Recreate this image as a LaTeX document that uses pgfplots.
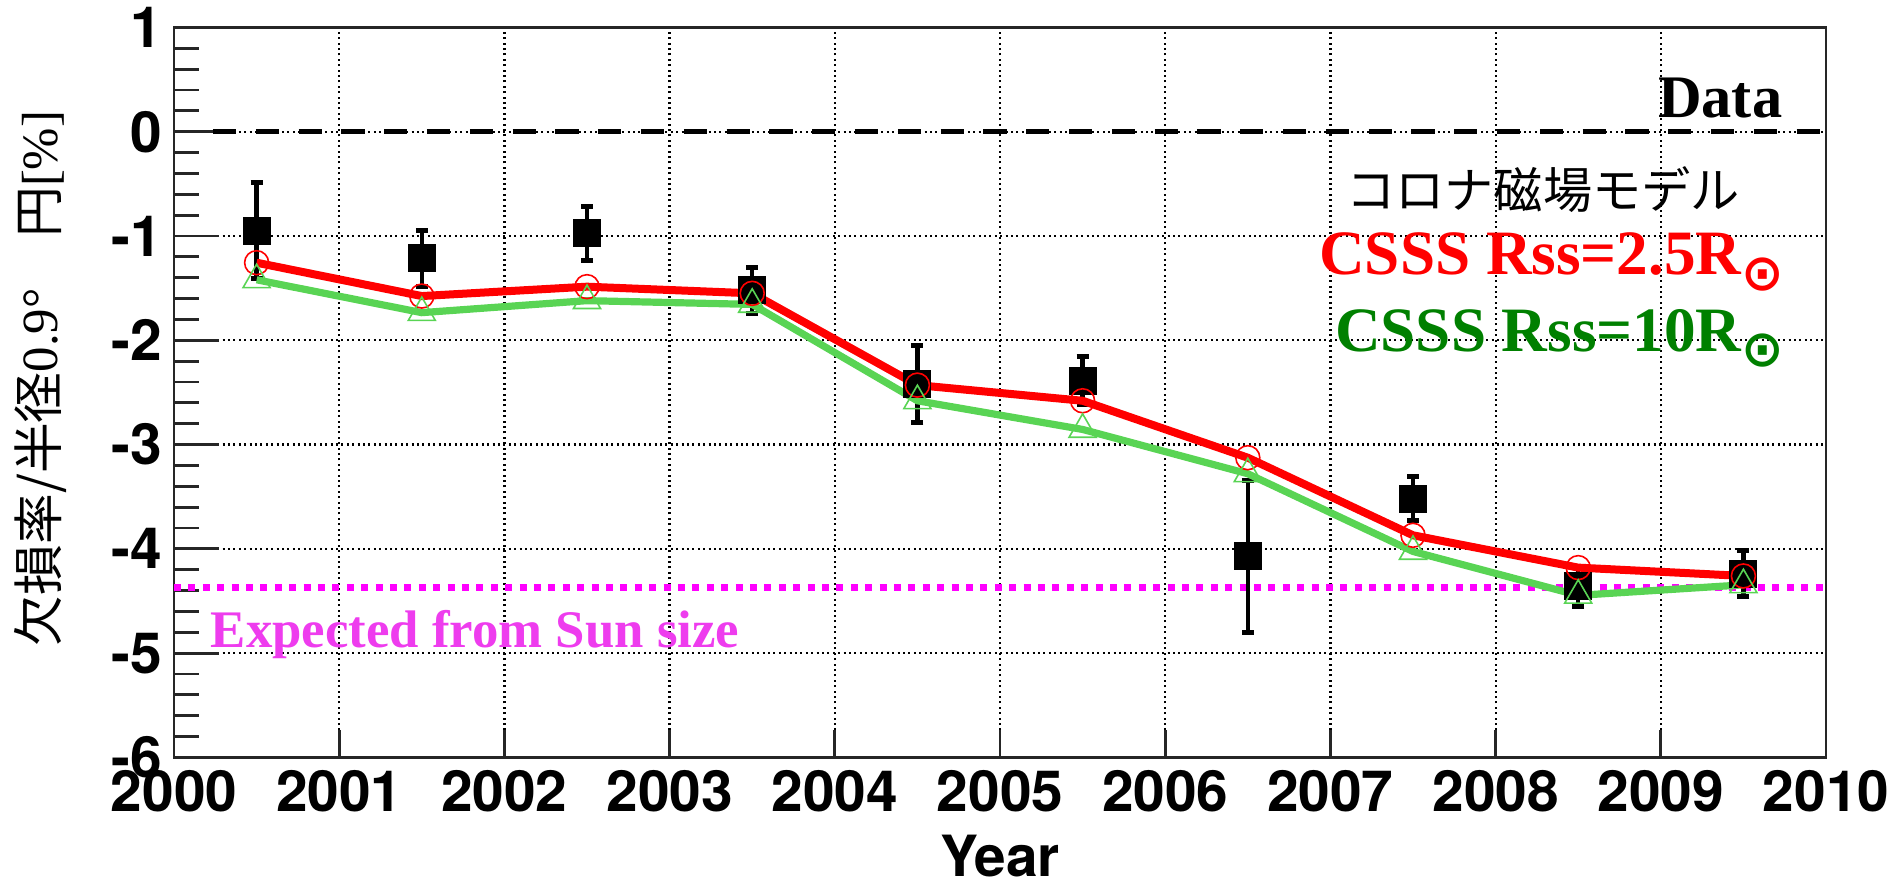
\documentclass[border=0pt]{standalone}
\usepackage{pgfplots}
\pgfplotsset{compat=1.18}
\usepackage{fontspec}
\setmainfont{Liberation Serif}
\setsansfont{TeX Gyre Heros}
\newfontfamily\cjk{Noto Sans CJK JP}
\newfontfamily\dejavu{DejaVu Sans}
\definecolor{rootgreen}{RGB}{89,212,84}
\definecolor{darkgreen}{RGB}{0,128,0}
\definecolor{mag}{RGB}{255,0,255}
\definecolor{magtext}{RGB}{238,60,238}
\newcommand{\sunsym}{\raisebox{-3.9pt}{\dejavu\fontsize{12.7}{12.7}\selectfont ⊙}}

\pgfplotstableread{
x y e
2000.5 -0.95 0.46
2001.5 -1.215 0.27
2002.5 -0.975 0.26
2003.5 -1.52 0.22
2004.5 -2.42 0.37
2005.5 -2.39 0.23
2006.5 -4.07 0.73
2007.5 -3.52 0.21
2008.5 -4.36 0.19
2009.5 -4.24 0.22
}\datatab

\pgfplotstableread{
x y
2000.5 -1.256
2001.5 -1.576
2002.5 -1.486
2003.5 -1.55
2004.5 -2.43
2005.5 -2.58
2006.5 -3.126
2007.5 -3.87
2008.5 -4.18
2009.5 -4.26
}\redtab

\pgfplotstableread{
x y
2000.5 -1.42
2001.5 -1.735
2002.5 -1.62
2003.5 -1.656
2004.5 -2.58
2005.5 -2.855
2006.5 -3.28
2007.5 -4.025
2008.5 -4.446
2009.5 -4.345
}\greentab

\begin{document}
\begin{tikzpicture}
\path[use as bounding box] (0,0) rectangle (473.25pt,220.75pt);
\begin{axis}[
  at={(43.5pt,31.4pt)}, anchor=south west,
  width=413pt, height=182.5pt, scale only axis,
  xmin=2000, xmax=2010, ymin=-6, ymax=1,
  xtick={2000,2001,...,2010}, ytick={-6,-5,...,1},
  minor x tick num=4, minor y tick num=4,
  tick pos=left, tick align=inside,
  grid=major,
  major grid style={black, line width=0.55pt, dash pattern=on 0.5pt off 0.85pt},
  axis line style={line width=0.7pt, black!85},
  tick style={line width=0.7pt, black!85},
  xtick style={/pgfplots/major tick length=6.9pt,/pgfplots/minor tick length=3.1pt},
  ytick style={/pgfplots/major tick length=11.2pt,/pgfplots/minor tick length=6.2pt},
  /pgf/number format/assume math mode=true,
  /pgf/number format/1000 sep={},
  xticklabel style={font=\fontsize{14.2}{14.2}\selectfont\sffamily\bfseries, inner sep=0pt, yshift=-3pt},
  yticklabel style={font=\fontsize{14.2}{14.2}\selectfont\sffamily\bfseries, inner sep=0pt, xshift=-2.75pt},
  xlabel={Year},
  xlabel style={at={(rel axis cs:0.5,-0.163)}, anchor=base, inner sep=0pt, font=\fontsize{14.2}{14.2}\selectfont\sffamily\bfseries},
  ylabel={{\cjk 欠損率/半径}0.9°{\cjk 　円}[\%]},
  ylabel style={at={(rel axis cs:-0.081,0.519)}, anchor=center, inner sep=0pt, font=\fontsize{12.7}{12.7}\selectfont},
]
\addplot[mag, line width=1.75pt, dash pattern=on 1.75pt off 1.85pt] coordinates {(2000,-4.375) (2010,-4.375)};
\addplot[black, line width=1.25pt, dash pattern=on 5.8pt off 4.9pt] coordinates {(2000.236,0) (2010,0)};

\addplot[black, only marks, mark=square*, mark size=3.3pt,
  error bars/.cd, y dir=both, y explicit, error mark=|,
  error bar style={line width=1.1pt, black},
  error mark options={line width=1.25pt, mark size=1.5pt, black}]
  table[x=x, y=y, y error=e] {\datatab};

\addplot[red, line width=2pt, mark=o, mark size=3pt, mark options={line width=0.4pt, solid}] table[x=x,y=y] {\redtab};
\addplot[rootgreen, line width=1.8pt, mark=triangle, mark size=3.9pt, mark options={line width=0.4pt, solid}] table[x=x,y=y] {\greentab};

\node[anchor=base east, inner sep=0pt, font=\fontsize{15.1}{15.1}\selectfont\bfseries] at (axis cs:2009.74,0.137) {Data};
\node[anchor=center, inner sep=0pt, font=\cjk\fontsize{12.3}{12.3}\selectfont] at (axis cs:2008.287,-0.558) {コロナ磁場モデル};
\node[anchor=base east, inner sep=0pt, text=red, font=\fontsize{15.8}{15.8}\selectfont\bfseries] at (axis cs:2009.752,-1.369) {CSSS Rss=2.5R\sunsym};
\node[anchor=base east, inner sep=0pt, text=darkgreen, font=\fontsize{15.8}{15.8}\selectfont\bfseries] at (axis cs:2009.752,-2.103) {CSSS Rss=10R\sunsym};
\node[anchor=base west, inner sep=0pt, text=magtext, font=\fontsize{13.2}{13.2}\selectfont\bfseries] at (axis cs:2000.218,-4.944) {Expected from Sun size};
\end{axis}
\end{tikzpicture}
\end{document}
